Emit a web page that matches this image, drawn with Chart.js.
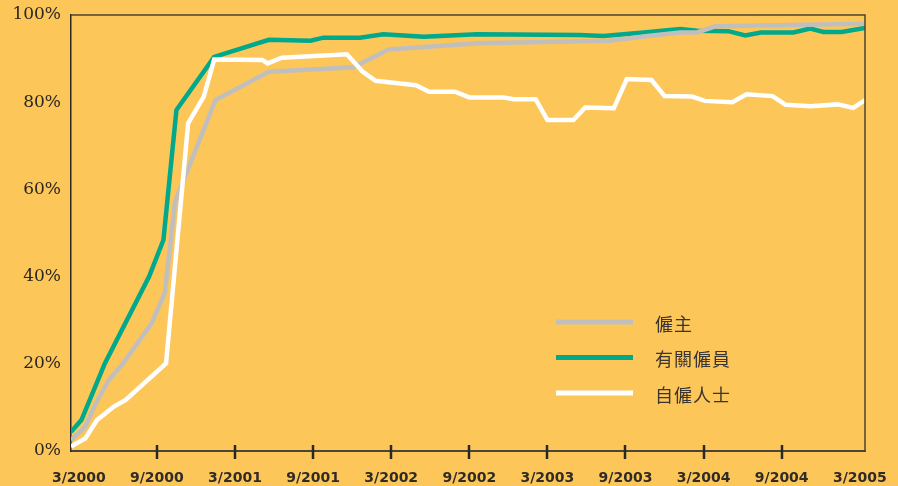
<!DOCTYPE html>
<html>
<head>
<meta charset="utf-8">
<script src="https://cdn.jsdelivr.net/npm/chart.js@4.4.1/dist/chart.umd.min.js"></script>
<style>
  html, body { margin: 0; padding: 0; background: #fdc659; }
  #wrap { width: 898px; height: 486px; }
</style>
</head>
<body>
<div id="wrap"><canvas id="chart" width="898" height="486"></canvas></div>
<script>
// months counted from 3/2000
const tickMonths = [0, 6, 12, 18, 24, 30, 36, 42, 48, 54, 60];
const tickLabels = ['3/2000', '9/2000', '3/2001', '9/2001', '3/2002', '9/2002',
                    '3/2003', '9/2003', '3/2004', '9/2004', '3/2005'];

const employerMonths = [-0.6, 0.5, 1.3, 2.3, 3.3, 5.6, 6.6, 7.4, 10.5, 14.6, 21.1, 23.8, 30.6, 40.8, 43.7, 46.2, 47.5, 48.9, 60.4];
const employerShare  = [2.5, 5.6, 10.9, 16.3, 19.7, 29.3, 36.2, 57.2, 80.5, 87.0, 88.0, 92.1, 93.5, 94.1, 95.2, 96.0, 96.0, 97.4, 98.0];

const employeeMonths = [-0.6, 0.2, 2.0, 5.4, 6.5, 7.5, 10.4, 14.6, 17.8, 18.8, 21.6, 23.4, 26.5, 30.6, 38.5, 40.3, 43.4, 46.2, 47.5, 49.9, 51.2, 52.4, 54.9, 56.2, 57.2, 58.6, 60.4];
const employeeShare  = [4.4, 7.1, 20.1, 40.0, 48.4, 78.2, 90.4, 94.3, 94.1, 94.8, 94.8, 95.6, 95.0, 95.6, 95.4, 95.2, 96.0, 96.8, 96.4, 96.3, 95.3, 96.0, 96.0, 96.9, 96.1, 96.1, 97.0];

const selfMonths = [-0.6, 0.5, 1.4, 2.7, 3.6, 6.7, 8.4, 9.6, 10.4, 14.1, 14.5, 15.6, 20.6, 21.8, 22.8, 25.9, 26.9, 28.9, 30.0, 32.6, 33.4, 35.1, 36.0, 38.0, 38.9, 41.1, 42.1, 44.0, 45.0, 47.1, 48.1, 50.2, 51.3, 53.3, 54.3, 56.2, 58.3, 59.5, 60.4];
const selfShare  = [1.0, 2.9, 7.1, 10.2, 11.7, 20.1, 75.2, 81.3, 89.8, 89.7, 88.9, 90.2, 91.0, 87.0, 84.9, 83.9, 82.4, 82.4, 81.1, 81.1, 80.7, 80.7, 75.9, 75.9, 78.8, 78.6, 85.3, 85.1, 81.4, 81.3, 80.3, 80.0, 81.8, 81.4, 79.4, 79.1, 79.5, 78.7, 80.5];

const seriesLabels = ['僱主', '有關僱員', '自僱人士'];
const seriesColors = ['#c0bfbe', '#00a88c', '#ffffff'];

const toPoints = (xs, ys) => xs.map((x, i) => ({ x: x, y: ys[i] }));

const bgPlugin = {
  id: 'bg',
  beforeDraw(chart) {
    const ctx = chart.ctx;
    ctx.save();
    ctx.fillStyle = '#fdc659';
    ctx.fillRect(0, 0, chart.width, chart.height);
    ctx.restore();
  }
};

// top and right edge of the frame, plus the tick marks across the x axis
const framePlugin = {
  id: 'frame',
  afterDraw(chart) {
    const ctx = chart.ctx;
    const a = chart.chartArea;
    const xs = chart.scales.x;
    ctx.save();
    ctx.strokeStyle = '#4d4331';
    ctx.lineWidth = 1.5;
    ctx.beginPath();
    ctx.moveTo(a.left, a.top);
    ctx.lineTo(a.right, a.top);
    ctx.lineTo(a.right, a.bottom);
    ctx.stroke();
    ctx.strokeStyle = '#2b2824';
    ctx.lineWidth = 2.5;
    tickMonths.slice(1, -1).forEach(m => {
      const px = Math.round(xs.getPixelForValue(m));
      ctx.beginPath();
      ctx.moveTo(px, a.bottom - 6);
      ctx.lineTo(px, a.bottom + 8);
      ctx.stroke();
    });
    ctx.restore();
  }
};

const legendPlugin = {
  id: 'legendBox',
  afterDatasetsDraw(chart) {
    const ctx = chart.ctx;
    ctx.save();
    chart.data.datasets.forEach((ds, i) => {
      const y = 322 + i * 35.5;
      ctx.strokeStyle = ds.borderColor;
      ctx.lineWidth = 5;
      ctx.beginPath();
      ctx.moveTo(556, y);
      ctx.lineTo(633, y);
      ctx.stroke();
      ctx.fillStyle = '#3a3530';
      ctx.font = '18px "Noto Sans CJK TC"';
      ctx.letterSpacing = '1px';
      ctx.textBaseline = 'middle';
      ctx.fillText(ds.label, 655, y + 2);
    });
    ctx.restore();
  }
};

new Chart(document.getElementById('chart'), {
  type: 'line',
  data: {
    datasets: [
      { label: seriesLabels[0], data: toPoints(employerMonths, employerShare), borderColor: seriesColors[0], order: 1 },
      { label: seriesLabels[1], data: toPoints(employeeMonths, employeeShare), borderColor: seriesColors[1], order: 2 },
      { label: seriesLabels[2], data: toPoints(selfMonths, selfShare), borderColor: seriesColors[2], order: 0 },
    ],
  },
  options: {
    responsive: false,
    animation: false,
    events: [],
    elements: {
      line: { borderWidth: 4.5, tension: 0, fill: false },
      point: { radius: 0 },
    },
    layout: { padding: { left: 0, right: 33, top: 15, bottom: 0 } },
    plugins: { legend: { display: false }, tooltip: { enabled: false } },
    scales: {
      x: {
        type: 'linear',
        min: -0.6,
        max: 60.4,
        afterBuildTicks(scale) { scale.ticks = tickMonths.map(v => ({ value: v })); },
        afterFit(scale) {
          scale.height = 35;
          scale.paddingLeft = 0;
          scale.paddingRight = 0;
        },
        grid: { display: false, drawTicks: false },
        border: { display: true, color: '#4a4538', width: 2 },
        ticks: {
          autoSkip: false,
          maxRotation: 0,
          padding: 19,
          color: '#2f2b27',
          font: { family: 'DejaVu Sans', size: 14, weight: 'bold' },
          callback: (v, i) => tickLabels[i],
        },
      },
      y: {
        min: 0,
        max: 100,
        afterFit(scale) {
          scale.width = 71;
          scale.paddingTop = 0;
          scale.paddingBottom = 0;
        },
        grid: { display: false, drawTicks: false },
        border: { display: true, color: '#2b2824', width: 1.5 },
        ticks: {
          stepSize: 20,
          padding: 10,
          color: '#2a2622',
          font: { family: 'DejaVu Serif', size: 17 },
          callback: v => v + '%',
        },
      },
    },
  },
  plugins: [bgPlugin, framePlugin, legendPlugin],
});
</script>
</body>
</html>
